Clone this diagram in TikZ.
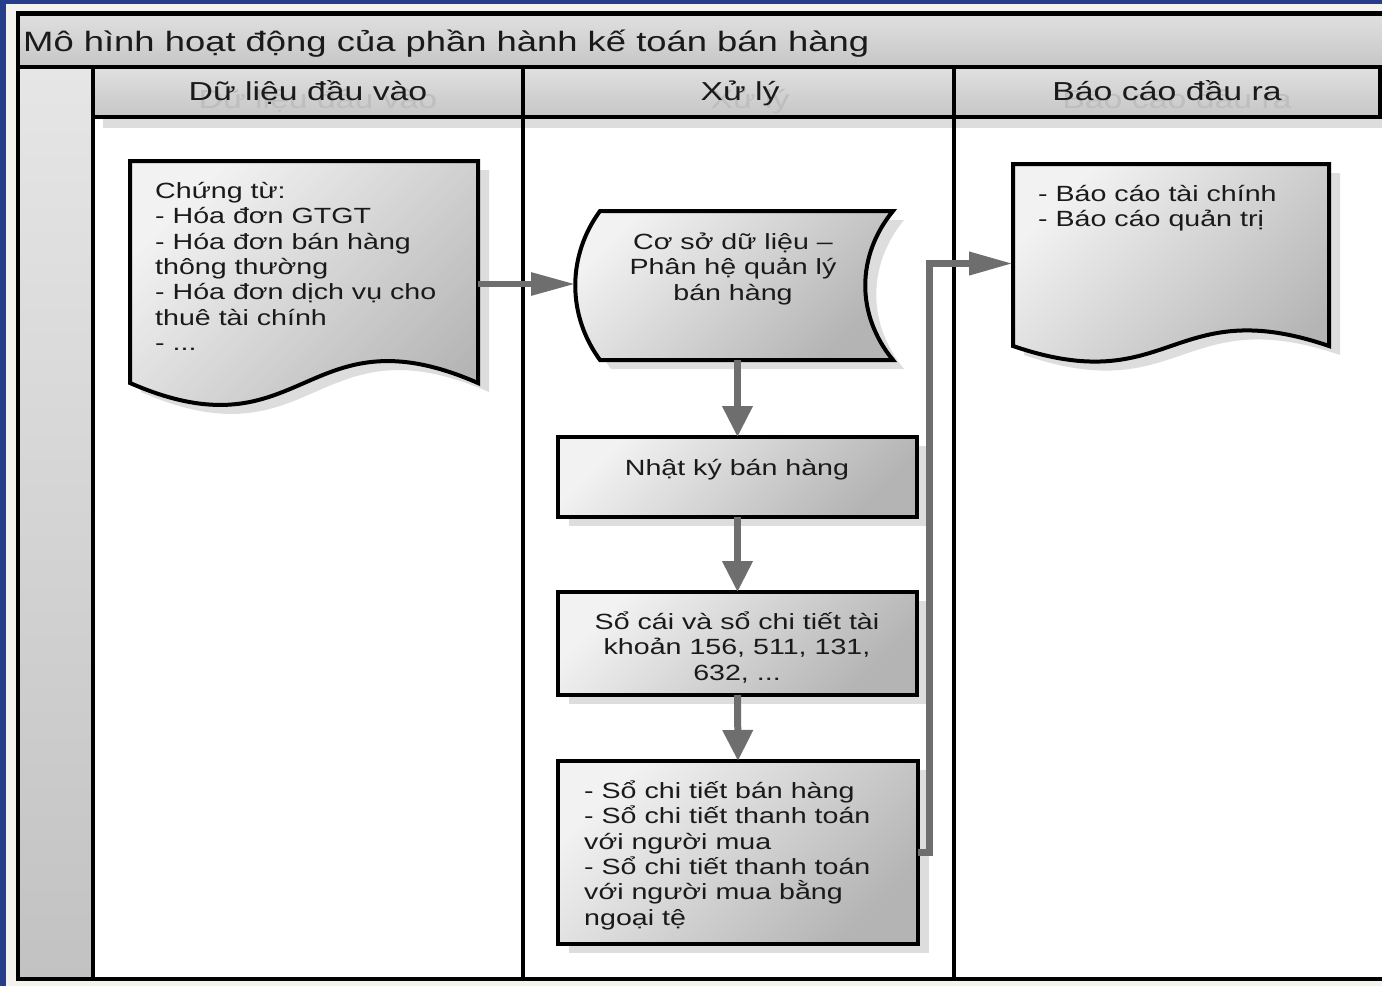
\documentclass[tikz,border=0pt]{standalone}
\usepackage{fontspec}
\setmainfont{Liberation Sans}
\newfontfamily\wideSans[FakeStretch=1.3]{Liberation Sans}
\usetikzlibrary{arrows.meta,calc}
\definecolor{navy}{HTML}{283C8C}
\definecolor{cream}{HTML}{F4F2EC}
\definecolor{shadowgray}{HTML}{DDDDDD}
\definecolor{boxlight}{HTML}{F2F2F2}
\definecolor{boxdark}{HTML}{B4B4B4}
\definecolor{hdrlight}{HTML}{E0E0E0}
\definecolor{hdrdark}{HTML}{C6C6C6}
\definecolor{sidelight}{HTML}{E6E6E6}
\definecolor{sidedark}{HTML}{C2C2C2}
\definecolor{arrowgray}{HTML}{6E6E6E}
\definecolor{ghostgray}{HTML}{BEBEBE}
\definecolor{inktext}{HTML}{1A1A1A}
\newcommand\lineTop{\rule{0pt}{21pt}}
\newcommand\pathDocIn{(doc1.north west) -- (doc1.north east) -- ($(doc1.south east)+(0,-24)$) .. controls ($(doc1.south)+(0,-100)$) and ($(doc1.south)+(0,52)$) .. ($(doc1.south west)+(0,-24)$) -- cycle}
\newcommand\pathDocOut{(outdoc.north west) -- (outdoc.north east) -- ($(outdoc.south east)+(0,-17)$) .. controls ($(outdoc.south)+(0,-71)$) and ($(outdoc.south)+(0,37)$) .. ($(outdoc.south west)+(0,-17)$) -- cycle}
\newcommand\pathStore{($(db.north west)+(25,0)$) -- (db.north east) .. controls ($(db.north east)+(-37,45)$) and ($(db.south east)+(-37,-45)$) .. (db.south east) -- ($(db.south west)+(25,0)$) .. controls ($(db.south west)+(-8,-45)$) and ($(db.north west)+(-8,45)$) .. cycle}
\tikzset{
  holder/.style={draw=none, fill=none, inner sep=0pt, outer sep=0pt},
  frameline/.style={draw=black, line width=4.5pt},
  shapeline/.style={draw=black, line width=4pt, line join=miter},
  boxshade/.style={top color=boxlight, bottom color=boxdark, shading angle=45},
  hdrshade/.style={top color=hdrlight, bottom color=hdrdark},
  hdrtext/.style={font=\fontsize{26}{30}\wideSans, text=inktext, inner sep=0pt, anchor=base},
  ghosttext/.style={font=\fontsize{26}{30}\wideSans, text=ghostgray, inner sep=0pt, anchor=base},
  boxtext/.style={font=\fontsize{22}{25.4}\wideSans, text=inktext, inner sep=0pt},
  flowv/.style={draw=arrowgray, line width=7pt, -{Triangle[length=31pt,width=29pt]}},
  flowh/.style={draw=arrowgray, line width=6pt, line join=miter, -{Triangle[length=44pt,width=22pt]}},
}
\begin{document}
\begin{tikzpicture}[x=1pt,y=-1pt]
\useasboundingbox (0,0) rectangle (1382,986);
\fill[cream] (0,0) rectangle (1382,986);
\fill[navy] (0,0) rectangle (1382,3.5);
\fill[navy] (0,0) rectangle (6,986);
\begin{scope}
\clip (0,0) rectangle (1382,986);
% lane bodies
\fill[white] (93,118) rectangle (1400,979);
% header shadows
\fill[shadowgray] (103,77) rectangle (533,128);
\fill[shadowgray] (533,77) rectangle (964,128);
\fill[shadowgray] (964,77) rectangle (1390,128);
% side column
\draw[frameline, top color=sidelight, bottom color=sidedark] (18,67) rectangle (93,979);
% dividers and bottom edge
\draw[frameline] (523,67) -- (523,979);
\draw[frameline] (954,67) -- (954,979);
\draw[frameline] (18,979) -- (1400,979);
% title bar
\draw[frameline, hdrshade] (18,13.5) rectangle (1400,67);
\node[anchor=base west, font=\fontsize{28}{32}\wideSans, text=inktext, inner sep=0pt] (title) at (23,51) {Mô hình hoạt động của phần hành kế toán bán hàng};
% lane headers
\draw[frameline, hdrshade] (93,67) rectangle (523,117);
\draw[frameline, hdrshade] (523,67) rectangle (954,117);
\draw[frameline, hdrshade] (954,67) rectangle (1380,117);
\begin{scope}
\clip (95,69) rectangle (1378,115);
\node[ghosttext] (g1) at (318,108) {Dữ liệu đầu vào};
\node[ghosttext] (g2) at (750,108) {Xử lý};
\node[ghosttext] (g3) at (1177,108) {Báo cáo đầu ra};
\end{scope}
\node[hdrtext] (h1) at (308,100) {Dữ liệu đầu vào};
\node[hdrtext] (h2) at (740,100) {Xử lý};
\node[hdrtext] (h3) at (1167,100) {Báo cáo đầu ra};
\end{scope}
% holders
\node[holder, minimum width=348, minimum height=246] (doc1) at (304,284) {};
\node[holder, minimum width=318, minimum height=149] (db) at (734,285.5) {};
\node[holder, minimum width=359, minimum height=80] (nk) at (737.5,477) {};
\node[holder, minimum width=359, minimum height=103] (sc) at (737.5,643.5) {};
\node[holder, minimum width=360, minimum height=183] (sct) at (738,852.5) {};
\node[holder, minimum width=316, minimum height=199] (outdoc) at (1171,263.5) {};
\coordinate (jct) at (929,560);
% shadows
\begin{scope}[transform canvas={shift={(11pt,-9pt)}}]
\fill[shadowgray] \pathDocIn;
\fill[shadowgray] \pathStore;
\fill[shadowgray] \pathDocOut;
\fill[shadowgray] (nk.north west) rectangle (nk.south east);
\fill[shadowgray] (sc.north west) rectangle (sc.south east);
\fill[shadowgray] (sct.north west) rectangle (sct.south east);
\end{scope}
% shapes
\draw[shapeline, boxshade] \pathDocIn;
\draw[shapeline, boxshade] \pathStore;
\draw[shapeline, boxshade] \pathDocOut;
\draw[shapeline, boxshade] (nk.north west) rectangle (nk.south east);
\draw[shapeline, boxshade] (sc.north west) rectangle (sc.south east);
\draw[shapeline, boxshade] (sct.north west) rectangle (sct.south east);
% texts
\node[boxtext, anchor=north west, align=left] (t1) at (155,177) {\lineTop Chứng từ:\\- Hóa đơn GTGT\\- Hóa đơn bán hàng\\thông thường\\- Hóa đơn dịch vụ cho\\thuê tài chính\\- ...};
\node[boxtext, anchor=north, align=center] (t2) at (733,228) {\lineTop Cơ sở dữ liệu –\\Phân hệ quản lý\\bán hàng};
\node[boxtext, anchor=base] (t3) at (737,475) {Nhật ký bán hàng};
\node[boxtext, anchor=north, align=center] (t4) at (737,608) {\lineTop Sổ cái và sổ chi tiết tài\\khoản 156, 511, 131,\\632, ...};
\node[boxtext, anchor=north west, align=left] (t5) at (584,777) {\lineTop - Sổ chi tiết bán hàng\\- Sổ chi tiết thanh toán\\với người mua\\- Sổ chi tiết thanh toán\\với người mua bằng\\ngoại tệ};
\node[boxtext, anchor=north west, align=left] (t6) at (1038,180) {\lineTop - Báo cáo tài chính\\- Báo cáo quản trị};
% connectors
\draw[flowh] (doc1.east) -- (doc1.east -| db.west);
\draw[flowv] (db.south -| nk.north) -- (nk.north);
\draw[flowv] (nk.south) -- (sc.north);
\draw[flowv] (sc.south) -- (sct.north);
\draw[flowh, line width=7pt] (sct.east) -- (sct.east -| jct) -- (jct |- outdoc.west) -- (outdoc.west);
\end{tikzpicture}
\end{document}
